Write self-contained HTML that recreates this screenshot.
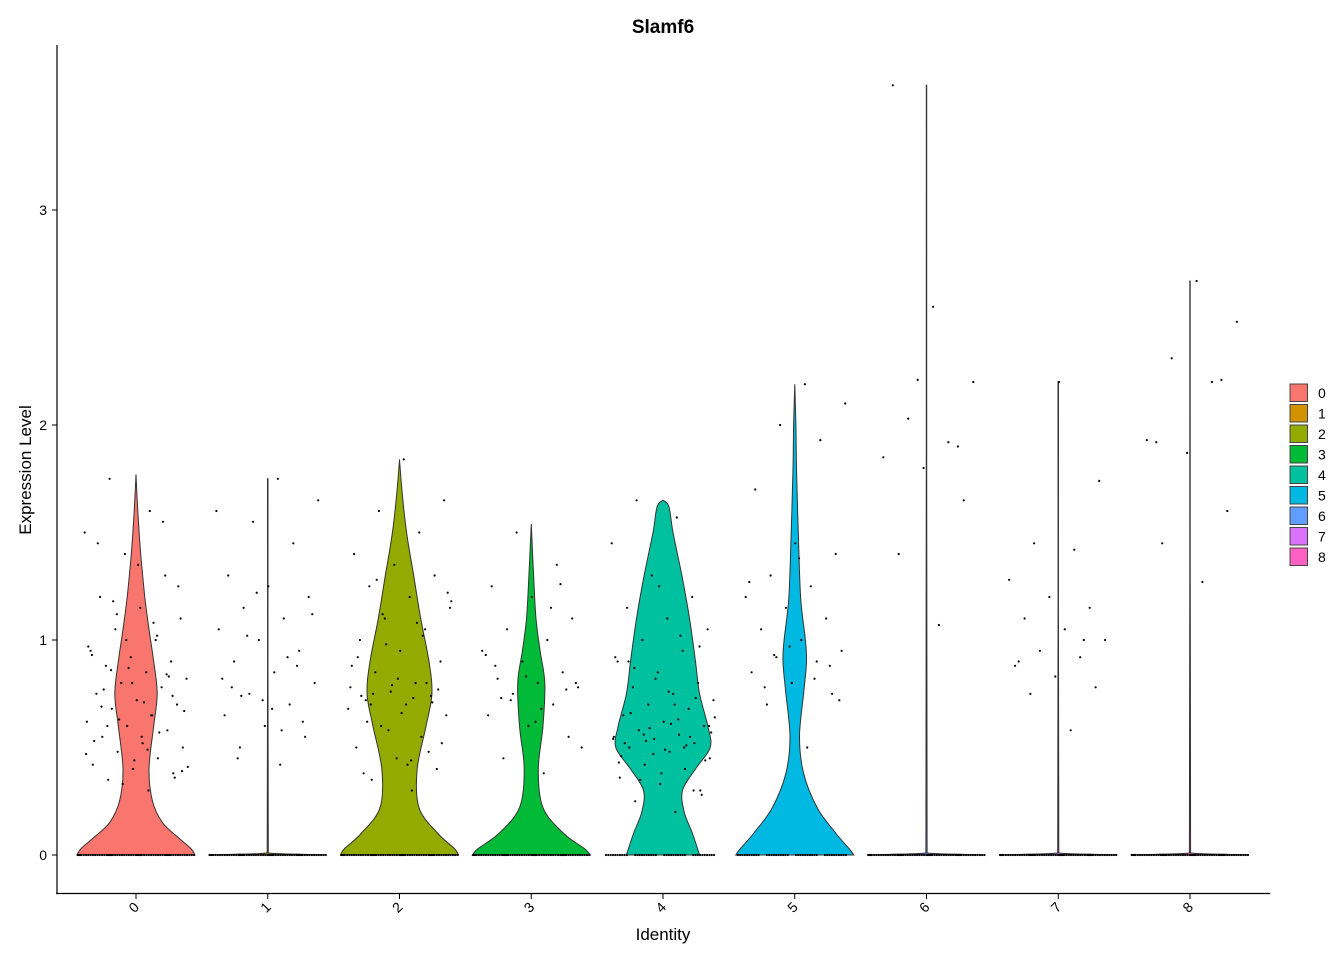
<!DOCTYPE html>
<html><head><meta charset="utf-8"><style>
body{margin:0;background:#fff}
svg text{font-family:"Liberation Sans",sans-serif}
</style></head><body>
<svg id="chart" width="1344" height="960" xmlns="http://www.w3.org/2000/svg">
<rect width="1344" height="960" fill="#fff"/>
<text x="663" y="33" font-size="19" font-weight="bold" text-anchor="middle">Slamf6</text>
<text transform="translate(31,470) rotate(-90)" font-size="17" text-anchor="middle">Expression Level</text>
<text x="663" y="940" font-size="17" text-anchor="middle">Identity</text>
<g id="violins"></g>
<g id="points"></g>
<g id="axes"></g>
<g id="legend"></g>
</svg>
<script>
const categories=["0","1","2","3","4","5","6","7","8"];
const colors=["#F8766D","#D39200","#93AA00","#00BA38","#00C19F","#00B9E3","#619CFF","#DB72FB","#FF61C3"];
const yTicks=[0,1,2,3];
// density profiles: [value, relative half-width]
const dens0=[[0,1],[0.03,0.93],[0.08,0.72],[0.15,0.45],[0.25,0.28],[0.4,0.22],[0.6,0.3],[0.75,0.36],[0.9,0.3],[1.05,0.22],[1.2,0.15],[1.4,0.08],[1.6,0.03],[1.77,0]];
const dens1=[[0,1],[0.004,0.5],[0.01,0.01],[1.75,0.004]];
const dens2=[[0,1],[0.03,0.93],[0.1,0.65],[0.22,0.33],[0.4,0.3],[0.6,0.45],[0.75,0.55],[0.9,0.5],[1.1,0.36],[1.3,0.24],[1.5,0.12],[1.7,0.04],[1.84,0]];
const dens3=[[0,1],[0.03,0.9],[0.1,0.55],[0.22,0.2],[0.4,0.12],[0.6,0.2],[0.8,0.23],[0.95,0.15],[1.1,0.08],[1.3,0.04],[1.54,0]];
const dens4=[[0,0.62],[0.1,0.5],[0.2,0.36],[0.3,0.33],[0.4,0.55],[0.5,0.8],[0.6,0.76],[0.75,0.62],[0.9,0.55],[1.1,0.45],[1.3,0.32],[1.5,0.17],[1.62,0.1],[1.65,0]];
const dens5=[[0,1],[0.03,0.92],[0.1,0.7],[0.22,0.38],[0.38,0.15],[0.55,0.08],[0.75,0.15],[0.9,0.2],[1.0,0.18],[1.2,0.1],[1.5,0.06],[1.8,0.03],[2.0,0.02],[2.19,0]];
const dens6=[[0,1],[0.004,0.5],[0.01,0.01],[3.58,0.004]];
const dens7=[[0,1],[0.004,0.5],[0.01,0.01],[2.2,0.004]];
const dens8=[[0,1],[0.004,0.5],[0.01,0.01],[2.67,0.004]];
const densities=[dens0,dens1,dens2,dens3,dens4,dens5,dens6,dens7,dens8];
const pts0=[0.3,0.35,0.38,0.4,0.42,0.45,0.48,0.5,0.52,0.55,0.58,0.6,0.62,0.65,0.68,0.7,0.72,0.75,0.78,0.8,0.82,0.85,0.88,0.9,0.92,0.95,1.0,1.05,1.1,1.15,1.2,1.3,1.4,1.5,1.6,1.75,0.36,0.44,0.53,0.57,0.63,0.67,0.71,0.77,0.83,0.87,0.97,1.08,1.18,1.25,1.35,1.45,1.55,0.33,0.41,0.49,0.6,0.74,0.8,0.93,1.02,1.12,0.39,0.55,0.69,0.84,1.0,0.47,0.65,0.86];
const pts1=[0.42,0.5,0.55,0.6,0.65,0.7,0.75,0.8,0.85,0.9,0.95,1.0,1.05,1.1,1.15,1.2,1.25,1.3,1.45,1.55,1.65,1.75,0.45,0.62,0.72,0.82,0.92,1.02,1.12,0.68,0.78,0.88,1.22,1.6,0.58,0.74];
const pts2=[0.3,0.35,0.4,0.45,0.5,0.55,0.6,0.65,0.7,0.72,0.74,0.76,0.78,0.8,0.85,0.9,0.95,1.0,1.05,1.1,1.15,1.2,1.25,1.3,1.35,1.4,1.5,1.6,1.65,1.84,0.38,0.48,0.58,0.68,0.73,0.75,0.77,0.82,0.92,1.02,1.12,1.22,0.42,0.62,0.71,0.79,0.88,1.08,1.28,0.52,0.66,0.74,0.8,0.98,1.18,0.44,0.7];
const pts3=[0.38,0.45,0.55,0.6,0.65,0.7,0.75,0.78,0.8,0.82,0.85,0.9,0.95,1.0,1.05,1.1,1.2,1.25,1.35,1.5,0.5,0.68,0.73,0.77,0.83,0.93,1.15,0.72,0.8,0.62,0.88,1.26];
const pts4=[0.2,0.25,0.3,0.33,0.36,0.4,0.42,0.45,0.48,0.5,0.52,0.54,0.55,0.56,0.58,0.6,0.62,0.65,0.68,0.7,0.72,0.75,0.78,0.8,0.85,0.9,0.95,1.0,1.05,1.1,1.15,1.2,1.3,1.45,1.57,1.65,0.28,0.38,0.46,0.51,0.53,0.57,0.61,0.66,0.73,0.82,0.92,1.02,0.35,0.44,0.49,0.52,0.55,0.59,0.64,0.7,0.87,0.97,1.25,0.43,0.5,0.56,0.6,0.76,0.9,0.3,0.47,0.54,0.63];
const pts5=[0.5,0.7,0.75,0.8,0.85,0.9,0.92,0.95,1.0,1.05,1.1,1.15,1.2,1.25,1.3,1.4,1.45,1.7,1.93,2.0,2.1,2.19,0.78,0.88,0.97,1.27,0.82,0.93,0.72,1.38];
const pts6=[1.07,1.4,1.65,1.8,1.85,1.92,2.03,2.2,2.55,3.58,1.9,2.21];
const pts7=[0.58,0.75,0.78,0.83,0.88,0.92,0.95,1.0,1.05,1.1,1.15,1.2,1.28,1.42,1.45,1.74,2.2,0.9,1.0];
const pts8=[1.27,1.45,1.6,1.87,1.93,2.2,2.31,2.48,2.67,1.92,2.21];
const points=[pts0,pts1,pts2,pts3,pts4,pts5,pts6,pts7,pts8];
const zeroCounts=[60,60,60,60,40,40,60,60,60];

const NS="http://www.w3.org/2000/svg";
const y0=855,unit=215;
const yS=v=>y0-v*unit;
const xS=i=>136+i*131.75;
const halfMax=59;
function mk(tag,attrs,parent){const e=document.createElementNS(NS,tag);for(const k in attrs)e.setAttribute(k,attrs[k]);parent.appendChild(e);return e;}
const clamp=(v,a,b)=>Math.max(Math.min(a,b),Math.min(Math.max(a,b),v));
function smooth(p,cx,side){ // catmull-rom with clamped control points
  let s="";
  for(let i=0;i<p.length-1;i++){
    const a=p[Math.max(0,i-1)],b=p[i],c=p[i+1],d=p[Math.min(p.length-1,i+2)];
    let c1=[b[0]+(c[0]-a[0])/6,b[1]+(c[1]-a[1])/6],c2=[c[0]-(d[0]-b[0])/6,c[1]-(d[1]-b[1])/6];
    c1[1]=clamp(c1[1],b[1],c[1]);c2[1]=clamp(c2[1],b[1],c[1]);
    if(side>0){c1[0]=Math.max(cx,c1[0]);c2[0]=Math.max(cx,c2[0]);}else{c1[0]=Math.min(cx,c1[0]);c2[0]=Math.min(cx,c2[0]);}
    s+=`C${c1[0].toFixed(1)},${c1[1].toFixed(1)} ${c2[0].toFixed(1)},${c2[1].toFixed(1)} ${c[0].toFixed(1)},${c[1].toFixed(1)}`;
  }
  return s;
}
const gV=document.getElementById('violins'),gP=document.getElementById('points'),gA=document.getElementById('axes'),gL=document.getElementById('legend');
densities.forEach((d,i)=>{
  const cx=xS(i);
  const right=d.map(p=>[cx+p[1]*halfMax,yS(p[0])]);
  const left=d.slice().reverse().map(p=>[cx-p[1]*halfMax,yS(p[0])]);
  const path=`M${right[0][0].toFixed(1)},${right[0][1]}`+smooth(right,cx,1)+`L${left[0][0].toFixed(1)},${left[0][1].toFixed(1)}`+smooth(left,cx,-1)+"Z";
  const e=mk('path',{d:path,fill:colors[i],stroke:"#333",'stroke-width':1},gV);
  
  
});
points.forEach((arr,i)=>{
  const cx=xS(i);
  arr.forEach((v,j)=>{
    const off=(((j+1)*0.618034)%1-0.5)*2*0.4*131.75;
    const c=mk('circle',{cx:(cx+off).toFixed(1),cy:yS(v).toFixed(1),r:1.1,fill:"#000"},gP);
    
    
  });
  for(let j=0;j<zeroCounts[i];j++){
    const off=(((j+1)*0.7548777)%1-0.5)*2*0.45*131.75;
    const c=mk('circle',{cx:(cx+off).toFixed(1),cy:y0,r:1.1,fill:"#000"},gP);
    
    
  }
});
mk('line',{x1:57,y1:45,x2:57,y2:894,stroke:"#000",'stroke-width':1.2},gA);
mk('line',{x1:56,y1:893.5,x2:1270,y2:893.5,stroke:"#000",'stroke-width':1.2},gA);
yTicks.forEach(t=>{
  mk('line',{x1:52,y1:yS(t),x2:57,y2:yS(t),stroke:"#000"},gA);
  const tx=mk('text',{x:47,y:yS(t)+5,'font-size':14,'text-anchor':'end',fill:"#000"},gA);
  tx.textContent=t;
  
  
});
categories.forEach((c,i)=>{
  mk('line',{x1:xS(i),y1:894,x2:xS(i),y2:899,stroke:"#000"},gA);
  const tx=mk('text',{transform:`translate(${xS(i)+4},${908}) rotate(-45)`,'font-size':14,'text-anchor':'end',fill:"#000"},gA);
  tx.textContent=c;
  
  
  const ly=384+i*20.5;
  const r=mk('rect',{x:1290,y:ly,width:17.5,height:17.5,fill:colors[i],stroke:"#444",'stroke-width':1},gL);
  
  
  const lt=mk('text',{x:1318,y:ly+14,'font-size':14,fill:"#000"},gL);
  lt.textContent=c;
  
  
});
</script>
</body></html>
